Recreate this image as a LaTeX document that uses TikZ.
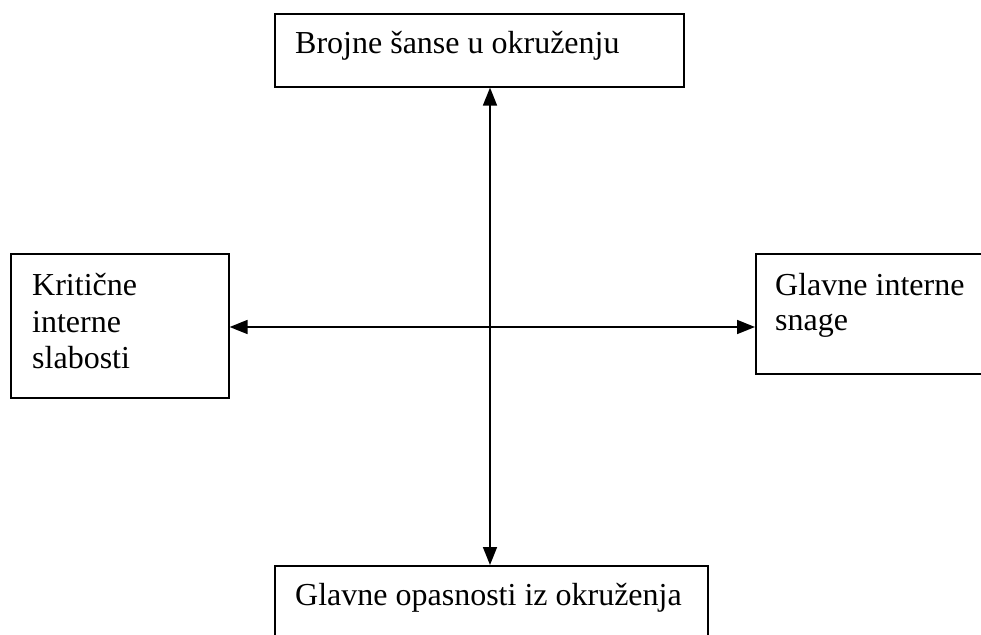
\documentclass[tikz,border=0pt]{standalone}
\usepackage{fontspec}
\setmainfont{Liberation Serif}
\usetikzlibrary{arrows.meta}
\begin{document}
\begin{tikzpicture}[x=1pt,y=1pt,
  box/.style={draw, line width=1.6pt, rectangle, inner sep=0pt, anchor=north west},
  lbl/.style={inner sep=0pt, anchor=base west, align=left,
    font=\fontsize{32}{36}\selectfont},
  link/.style={line width=1.6pt, {Triangle[length=18pt,width=14pt]}-{Triangle[length=18pt,width=14pt]}}]
\useasboundingbox (0,0) rectangle (981,-634);
\clip (0,0) rectangle (981,-634);
% four boxes
\node[box, minimum width=409pt, minimum height=73pt]  (top)    at (274,-13)  {};
\node[box, minimum width=218pt, minimum height=144pt] (left)   at (10,-253)  {};
\node[box, minimum width=260pt, minimum height=120pt] (right)  at (755,-253) {};
\node[box, minimum width=433pt, minimum height=100pt] (bottom) at (274,-565) {};
% labels
\node[lbl] (ttop)    at (295,-53)  {Brojne šanse u okruženju};
\node[lbl] (tleft1)  at (32,-295)  {Kritične};
\node[lbl] (tleft2)  at (32,-332)  {interne};
\node[lbl] (tleft3)  at (32,-368)  {slabosti};
\node[lbl] (tright1) at (775,-295) {Glavne interne};
\node[lbl] (tright2) at (775,-330) {snage};
\node[lbl] (tbottom) at (295,-605) {Glavne opasnosti iz okruženja};
% axes
\coordinate (vx) at (490,0);
\coordinate (hy) at (0,-327);
\draw[link] (top.south -| vx) -- (bottom.north -| vx);
\draw[link] (left.east |- hy) -- (right.west |- hy);
\end{tikzpicture}
\end{document}
